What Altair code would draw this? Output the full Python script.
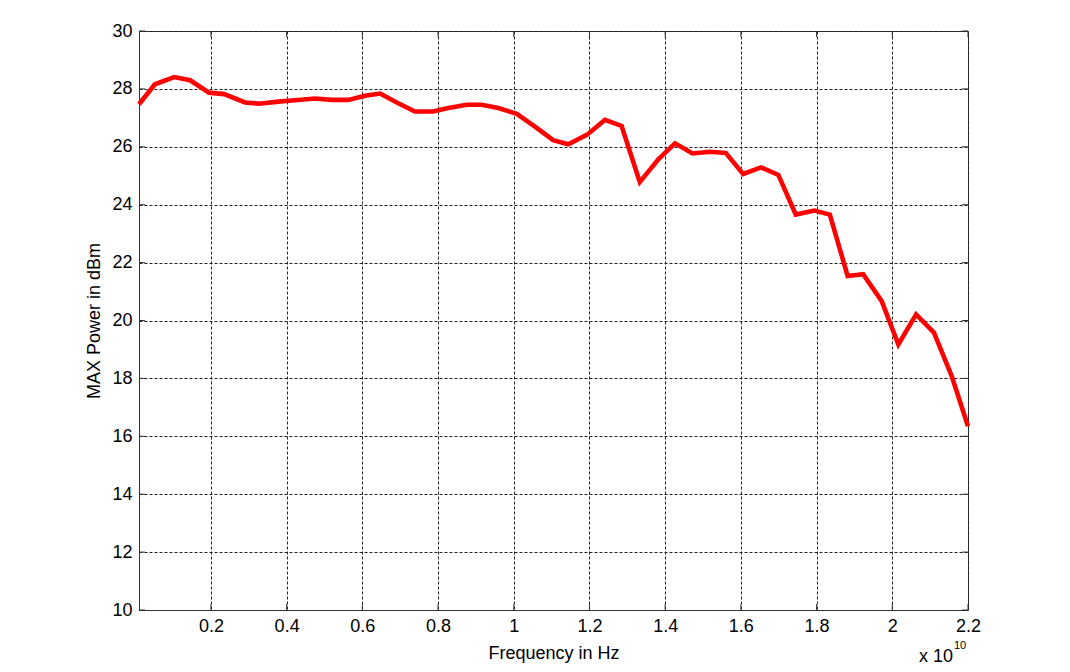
import altair as alt
import pandas as pd

# Frequency in units of 1e10 Hz
freq = [0.010, 0.052, 0.103, 0.145, 0.195, 0.235, 0.290, 0.327, 0.378, 0.422,
        0.475, 0.519, 0.563, 0.607, 0.647, 0.691, 0.739, 0.787, 0.827, 0.876,
        0.915, 0.959, 1.008, 1.056, 1.104, 1.144, 1.193, 1.241, 1.285, 1.333,
        1.382, 1.426, 1.472, 1.518, 1.560, 1.606, 1.653, 1.699, 1.745, 1.794,
        1.835, 1.882, 1.923, 1.972, 2.016, 2.063, 2.110, 2.157, 2.200]
power = [27.47, 28.16, 28.41, 28.30, 27.87, 27.82, 27.53, 27.49, 27.56, 27.61,
         27.67, 27.62, 27.62, 27.76, 27.84, 27.53, 27.22, 27.22, 27.34, 27.45,
         27.45, 27.34, 27.14, 26.70, 26.23, 26.09, 26.41, 26.93, 26.72, 24.78,
         25.57, 26.12, 25.77, 25.83, 25.79, 25.06, 25.29, 25.03, 23.66, 23.80,
         23.66, 21.54, 21.60, 20.67, 19.17, 20.21, 19.58, 18.08, 16.35]
x_ticks = [0.2, 0.4, 0.6, 0.8, 1.0, 1.2, 1.4, 1.6, 1.8, 2.0, 2.2]
y_ticks = [10, 12, 14, 16, 18, 20, 22, 24, 26, 28, 30]

W, H = 829, 579
FONT = "Liberation Sans"
FS = 18

df = pd.DataFrame({"f": freq, "p": power})
xt = pd.DataFrame({"f": x_ticks})
yt = pd.DataFrame({"p": y_ticks})

xscale = alt.Scale(domain=[0.01, 2.2], nice=False, zero=False)
yscale = alt.Scale(domain=[10, 30], nice=False, zero=False)

xaxis = alt.Axis(values=x_ticks, format="~g", title="Frequency in Hz",
                 grid=True, gridDash=[3, 2], gridColor="#222", gridWidth=1,
                 ticks=False, labelPadding=7, labelFont=FONT, labelFontSize=FS,
                 labelColor="black", titleFont=FONT, titleFontSize=FS,
                 titleFontWeight="normal", titleColor="black", titlePadding=9,
                 domainColor="#333", labelFlush=False)
yaxis = alt.Axis(values=y_ticks, title="MAX Power in dBm",
                 grid=True, gridDash=[3, 2], gridColor="#222", gridWidth=1,
                 ticks=False, labelPadding=7, labelFont=FONT, labelFontSize=FS,
                 labelColor="black", titleFont=FONT, titleFontSize=FS,
                 titleFontWeight="normal", titleColor="black", titlePadding=8,
                 domainColor="#333")

X = alt.X("f:Q", scale=xscale, axis=xaxis)
Y = alt.Y("p:Q", scale=yscale, axis=yaxis)

line = alt.Chart(df).mark_line(color="#ff0000", strokeWidth=4.6, strokeJoin="miter").encode(
    x=X, y=Y)

tick_style = dict(color="#333", strokeWidth=1)
xt_bottom = alt.Chart(xt).mark_rule(**tick_style).encode(
    x=X, y=alt.value(H - 6), y2=alt.value(H))
xt_top = alt.Chart(xt).mark_rule(**tick_style).encode(
    x=X, y=alt.value(0), y2=alt.value(6))
yt_left = alt.Chart(yt).mark_rule(**tick_style).encode(
    y=Y, x=alt.value(0), x2=alt.value(6))
yt_right = alt.Chart(yt).mark_rule(**tick_style).encode(
    y=Y, x=alt.value(W - 6), x2=alt.value(W))

note = pd.DataFrame({"a": [0]})
exp_base = alt.Chart(note).mark_text(text="x 10", font=FONT, fontSize=FS, align="left",
                                     baseline="alphabetic", color="black").encode(
    x=alt.value(780), y=alt.value(631))
exp_sup = alt.Chart(note).mark_text(text="10", font=FONT, fontSize=11, align="left",
                                    baseline="alphabetic", color="black").encode(
    x=alt.value(815), y=alt.value(618))

chart = alt.layer(line, xt_bottom, xt_top, yt_left, yt_right, exp_base, exp_sup).properties(
    width=W, height=H,
    autosize=alt.AutoSizeParams(type="none"),
    padding={"left": 131, "top": 23, "right": 90, "bottom": 70},
    background="white",
).configure_view(stroke="#333", strokeWidth=1)

chart.save("out.html", embed_options={"renderer": "svg", "actions": False})
